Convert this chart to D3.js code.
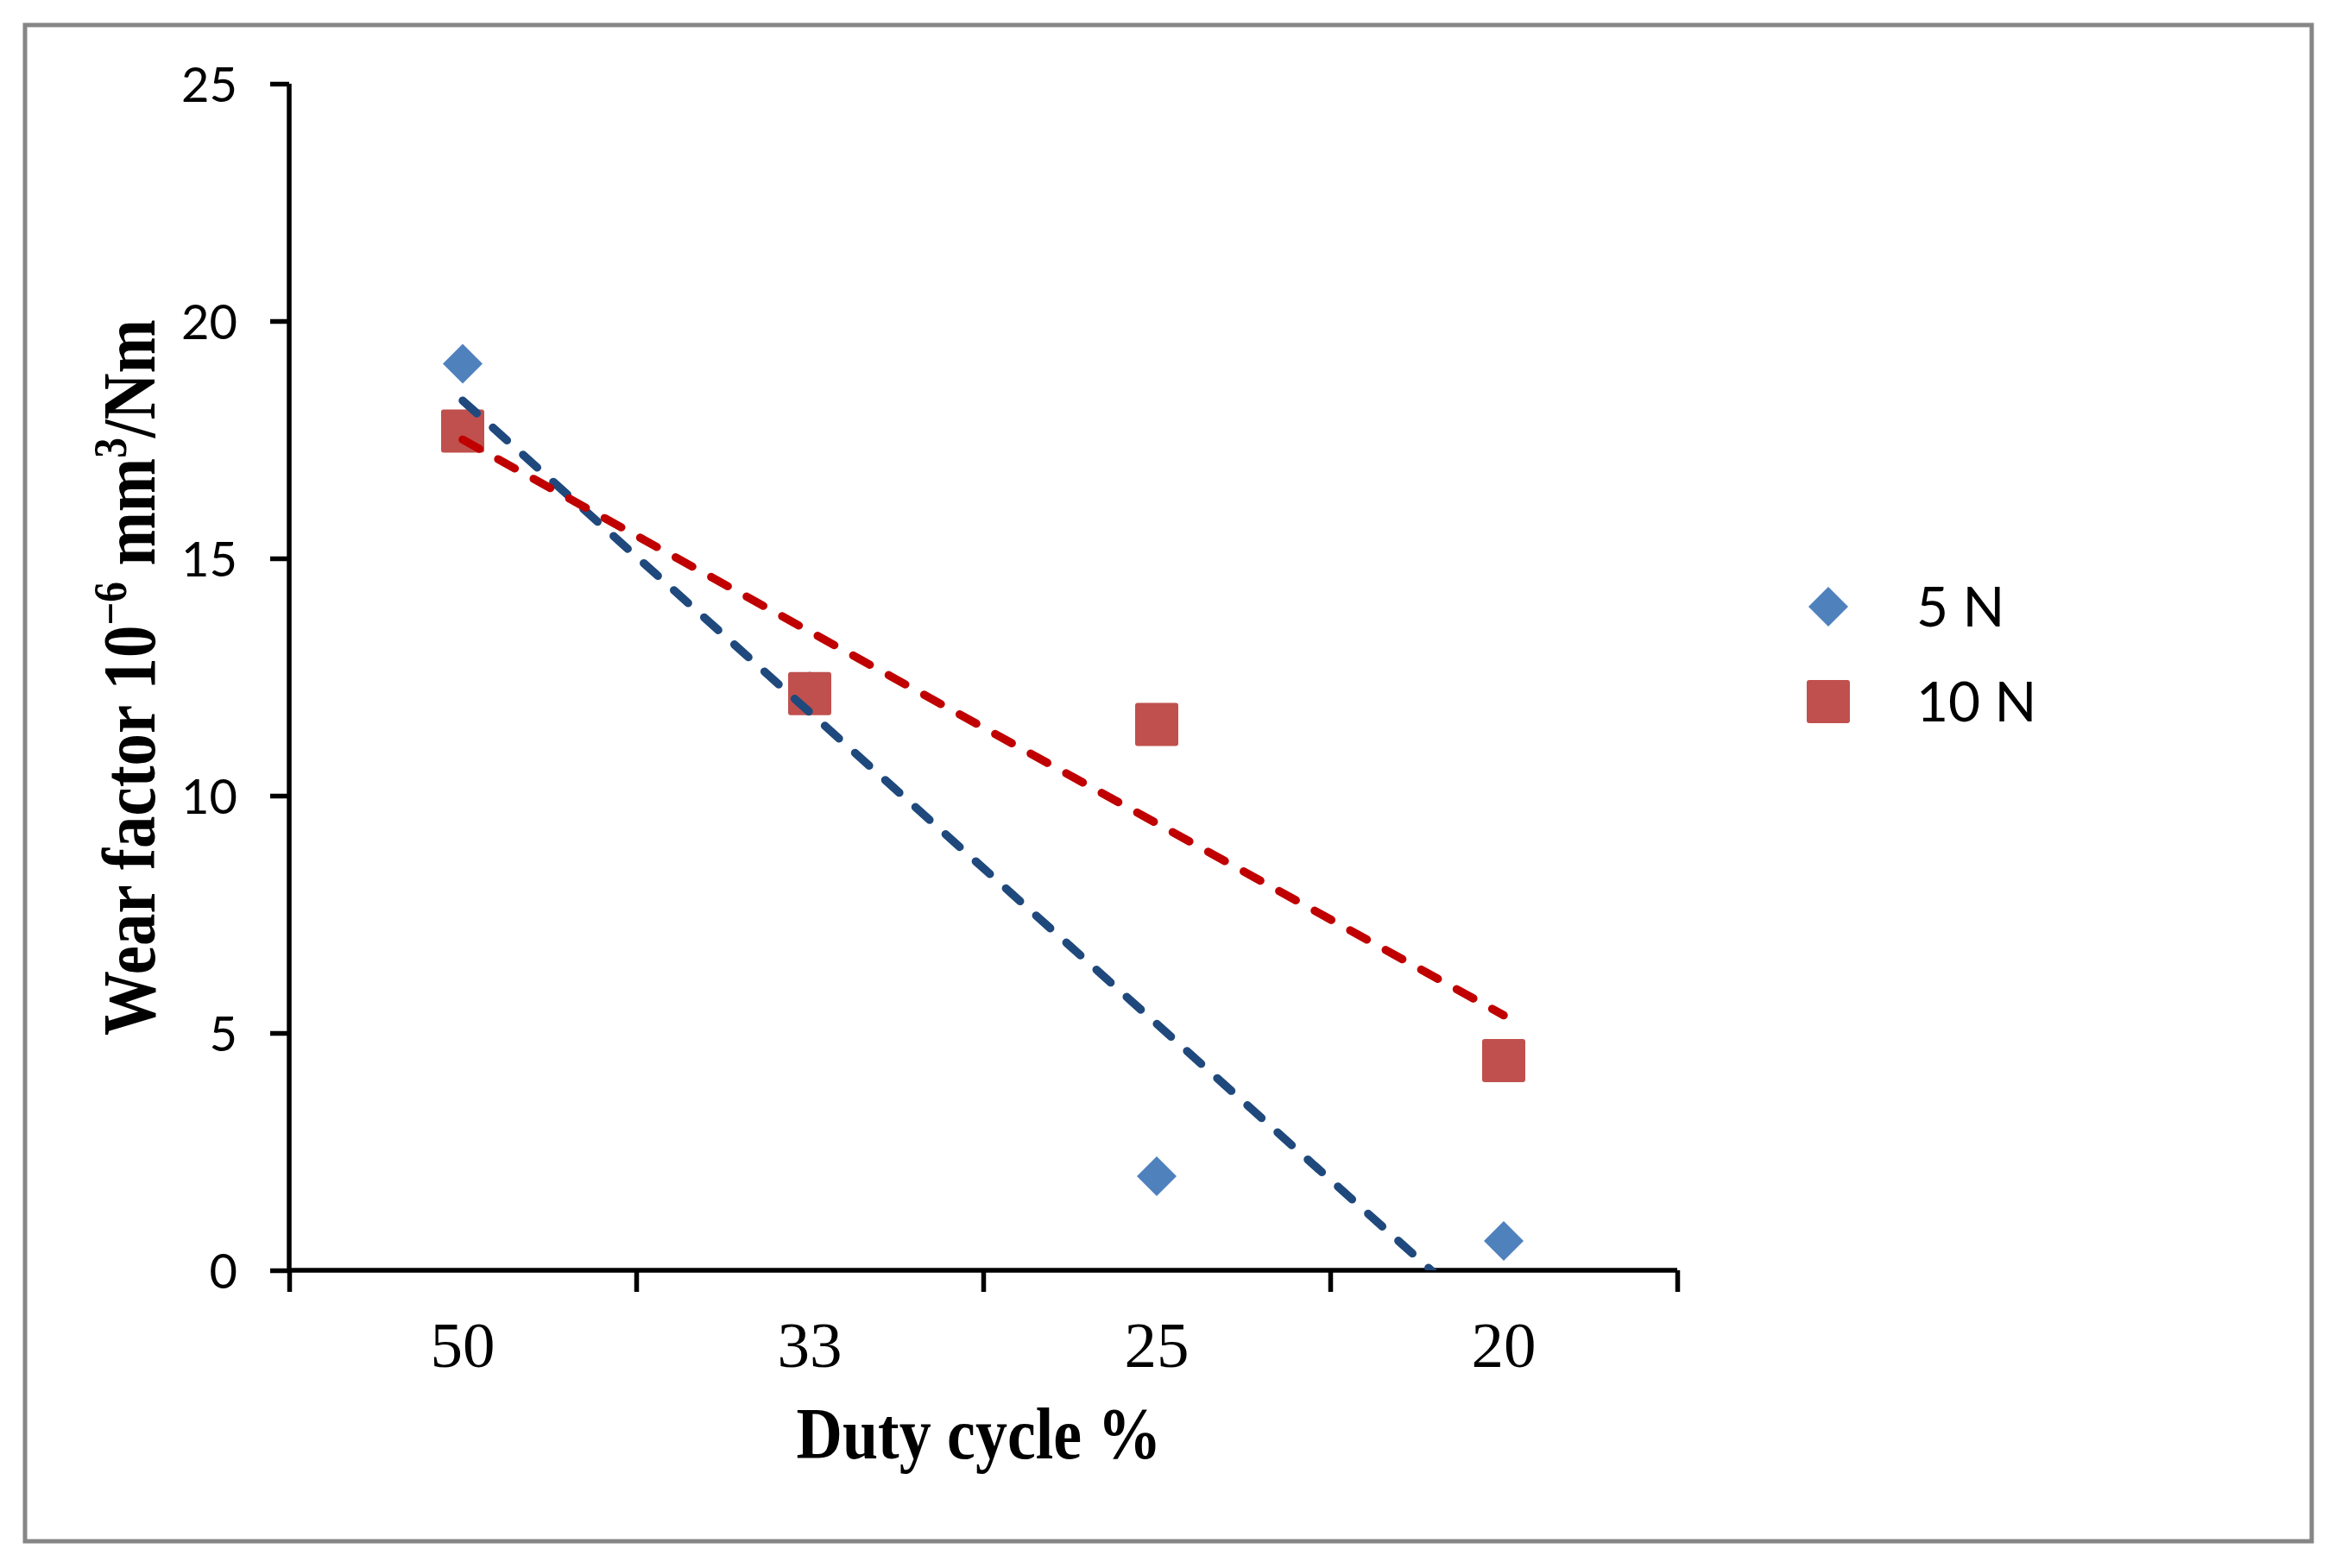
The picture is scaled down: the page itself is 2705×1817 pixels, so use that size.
<!DOCTYPE html>
<html>
<head>
<meta charset="utf-8">
<script src="https://cdn.jsdelivr.net/npm/d3@7"></script>
<style>
  body { margin: 0; background: #fff; }
</style>
</head>
<body>
<div id="chart-area"></div>
<script>

var categories = ["50", "33", "25", "20"];
var seriesNames = ["5 N", "10 N"];
var wear5N = [19.1, 12.2, 1.98, 0.62];
var wear10N = [17.68, 12.15, 11.5, 4.42];
var yTicks = [0, 5, 10, 15, 20, 25];

var W = 2705, H = 1817;
var margin = {left : 335, right : 762, top : 97, bottom : 345};
var width = W - margin.left - margin.right;
var height = H - margin.top - margin.bottom;

var svg = d3.select("#chart-area")
            .append("svg")
            .attr("width", W)
            .attr("height", H);

svg.append("rect")
   .attr("x", 29).attr("y", 29)
   .attr("width", 2649).attr("height", 1757)
   .attr("fill", "#fff")
   .attr("stroke", "#868686")
   .attr("stroke-width", 5);

var g = svg.append("g")
           .attr("transform", "translate(" + margin.left + ", " + margin.top + ")");

var x = d3.scaleBand().domain(categories).range([0, width]);
var xEdge = d3.scaleLinear().domain([0, categories.length]).range([0, width]);
var y = d3.scaleLinear().domain([0, 25]).range([height, 0]);

// y axis
var yAxisGroup = g.append("g").attr("class", "y axis")
  .call(d3.axisLeft(y).tickValues(yTicks).tickSize(22).tickPadding(38));
yAxisGroup.select(".domain").attr("stroke-width", 5.5).attr("d", "M0,0V" + height);
yAxisGroup.selectAll("line").attr("stroke-width", 5.5);
yAxisGroup.selectAll("text")
  .attr("font-family", "Lato, 'Open Sans', sans-serif")
  .attr("font-size", "56px")
  .attr("fill", "#000")
  .attr("dy", "0.36em");

// x axis: boundary ticks + category labels
var xAxisGroup = g.append("g").attr("class", "x axis")
  .attr("transform", "translate(0," + height + ")")
  .call(d3.axisBottom(xEdge).ticks(categories.length).tickSize(25).tickFormat(""));
xAxisGroup.select(".domain").attr("stroke-width", 5.5).attr("d", "M0,0H" + width);
xAxisGroup.selectAll("line").attr("stroke-width", 5.5);

var xLabelGroup = g.append("g")
  .attr("transform", "translate(0," + height + ")")
  .call(d3.axisBottom(x).tickSize(0));
xLabelGroup.select(".domain").remove();
xLabelGroup.selectAll("text")
  .attr("font-family", "'Liberation Serif', 'Times New Roman', serif")
  .attr("font-size", "75px")
  .attr("fill", "#000")
  .attr("y", 112)
  .attr("dy", 0);

// axis titles
function fitText(sel, target) {
  var len = sel.node().getComputedTextLength();
  return target / len;
}

var xTitle = svg.append("text")
  .attr("font-family", "'Liberation Serif', 'Times New Roman', serif")
  .attr("font-weight", "bold")
  .attr("font-size", "85px")
  .attr("text-anchor", "middle")
  .text("Duty cycle %");
xTitle.attr("transform", "translate(1134,1690) scale(" + fitText(xTitle, 423) + ",1)");

var yTitle = svg.append("text")
  .attr("font-family", "'Liberation Serif', 'Times New Roman', serif")
  .attr("font-weight", "bold")
  .attr("font-size", "86px")
  .attr("text-anchor", "middle");
yTitle.append("tspan").text("Wear factor 10");
yTitle.append("tspan").attr("font-size", "54px").attr("dy", -33).text("\u22126");
yTitle.append("tspan").attr("dy", 33).text(" mm");
yTitle.append("tspan").attr("font-size", "54px").attr("dy", -33).text("3");
yTitle.append("tspan").attr("dy", 33).text("/Nm");
yTitle.attr("transform", "translate(179,785) rotate(-90) scale(" + fitText(yTitle, 830) + ",1)");

// markers
var diamond = d3.symbol().type(d3.symbolSquare).size(1058);
var sqSize = 50;

var data5 = categories.map((c, i) => ({cat : c, value : wear5N[i]}));
var data10 = categories.map((c, i) => ({cat : c, value : wear10N[i]}));

g.selectAll(".pt5").data(data5).enter().append("path")
  .attr("class", "pt5")
  .attr("d", diamond)
  .attr("transform", d => "translate(" + (x(d.cat) + x.bandwidth() / 2) + "," + y(d.value) + ") rotate(45)")
  .attr("fill", "#4F81BD");

g.selectAll(".pt10").data(data10).enter().append("rect")
  .attr("class", "pt10")
  .attr("x", d => x(d.cat) + x.bandwidth() / 2 - sqSize / 2)
  .attr("y", d => y(d.value) - sqSize / 2)
  .attr("width", sqSize).attr("height", sqSize)
  .attr("rx", 3)
  .attr("fill", "#C0504D");

// linear trend lines (least squares on category index 1..n)
function trend(vals) {
  var n = vals.length;
  var xs = vals.map((v, i) => i + 1);
  var mx = d3.mean(xs), my = d3.mean(vals);
  var num = d3.sum(xs, (xi, i) => (xi - mx) * (vals[i] - my));
  var den = d3.sum(xs, xi => (xi - mx) * (xi - mx));
  var slope = num / den;
  var icpt = my - slope * mx;
  return [{i : 1, v : icpt + slope}, {i : n, v : icpt + slope * n}];
}

g.append("clipPath").attr("id", "plot-clip")
  .append("rect").attr("width", width).attr("height", height);

var xi = d3.scaleLinear().domain([1, categories.length])
  .range([x(categories[0]) + x.bandwidth() / 2, x(categories[categories.length - 1]) + x.bandwidth() / 2]);
var line = d3.line().x(d => xi(d.i)).y(d => y(d.v));

var trends = [
  {vals : wear5N, color : "#1F497D"},
  {vals : wear10N, color : "#C00000"}
];

g.append("g").attr("clip-path", "url(#plot-clip)")
  .selectAll(".trend").data(trends).enter().append("path")
  .attr("class", "trend")
  .attr("d", d => line(trend(d.vals)))
  .attr("fill", "none")
  .attr("stroke", d => d.color)
  .attr("stroke-width", 9.5)
  .attr("stroke-linecap", "round")
  .attr("stroke-dasharray", "22,25");

// legend
var legend = svg.append("g").attr("transform", "translate(2118,703)");
seriesNames.forEach((s, i) => {
  var row = legend.append("g").attr("transform", "translate(0," + (i * 110) + ")");
  if (i == 0) {
    row.append("path").attr("d", diamond).attr("transform", "rotate(45)").attr("fill", "#4F81BD");
  } else {
    row.append("rect").attr("x", -sqSize / 2).attr("y", -sqSize / 2)
      .attr("width", sqSize).attr("height", sqSize).attr("rx", 3)
      .attr("fill", "#C0504D");
  }
  row.append("text")
    .attr("x", 102)
    .attr("y", 23)
    .attr("font-family", "Lato, 'Open Sans', sans-serif")
    .attr("font-size", "64px")
    .text(s);
});

</script>
</body>
</html>
